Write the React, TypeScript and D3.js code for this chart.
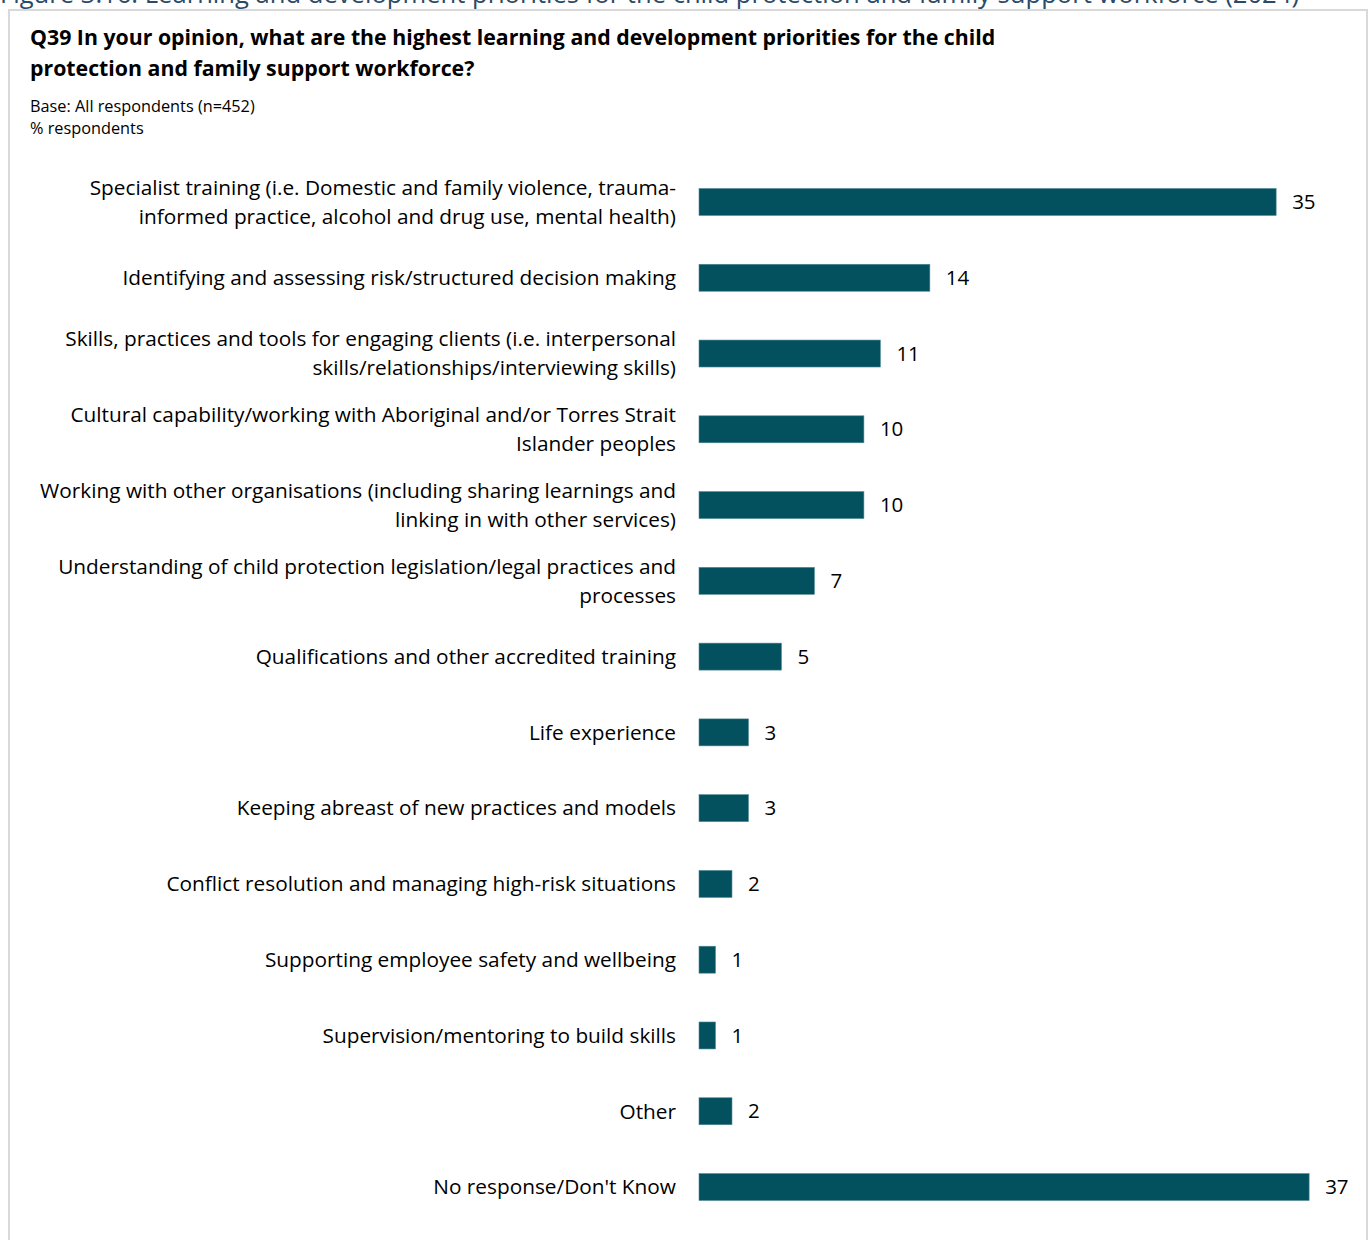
import React from "react";
import * as d3 from "d3";

const categories: string[][] = [
  ["Specialist training (i.e. Domestic and family violence, trauma-", "informed practice, alcohol and drug use, mental health)"],
  ["Identifying and assessing risk/structured decision making"],
  ["Skills, practices and tools for engaging clients (i.e. interpersonal", "skills/relationships/interviewing skills)"],
  ["Cultural capability/working with Aboriginal and/or Torres Strait", "Islander peoples"],
  ["Working with other organisations (including sharing learnings and", "linking in with other services)"],
  ["Understanding of child protection legislation/legal practices and", "processes"],
  ["Qualifications and other accredited training"],
  ["Life experience"],
  ["Keeping abreast of new practices and models"],
  ["Conflict resolution and managing high-risk situations"],
  ["Supporting employee safety and wellbeing"],
  ["Supervision/mentoring to build skills"],
  ["Other"],
  ["No response/Don't Know"],
];
const values: number[] = [35, 14, 11, 10, 10, 7, 5, 3, 3, 2, 1, 1, 2, 37];

const caption = "Figure 3.16: Learning and development priorities for the child protection and family support workforce (2024)";
const titleLines = [
  "Q39 In your opinion, what are the highest learning and development priorities for the child",
  "protection and family support workforce?",
];
const subtitleLines = ["Base: All respondents (n=452)", "% respondents"];

const FONT = "'Open Sans', 'Noto Sans', sans-serif";
const BAR = "#03505f";

export default function App() {
  const W = 1370, H = 1240;
  const ids = categories.map((_, i) => String(i));
  const x = d3.scaleLinear().domain([0, 40]).range([699, 1358.6]);
  const pi = 0.644;
  const y = d3.scaleBand<string>().domain(ids).range([164.1, 1224.9]).paddingInner(pi).paddingOuter(pi / 2);
  const bw = y.bandwidth();
  const lineH = 29;

  return (
    <svg width={W} height={H} style={{ position: "absolute", left: 0, top: 0, background: "#fff" }} fontFamily={FONT}>
      <rect x={0} y={0} width={W} height={H} fill="#fff" />
      <text x={0} y={3} fontSize={25.6} fill="#2a4a68">{caption}</text>
      <rect x={9} y={10} width={1358} height={1240} fill="none" stroke="#d9d9d9" strokeWidth={2} />
      {titleLines.map((t, i) => (
        <text key={i} x={30} y={45 + i * 31} fontSize={21.3} fontWeight={700} fill="#000">{t}</text>
      ))}
      {subtitleLines.map((t, i) => (
        <text key={i} x={30} y={112 + i * 22} fontSize={16.3} fill="#000">{t}</text>
      ))}
      {categories.map((lines, i) => {
        const cy = (y(ids[i]) as number) + bw / 2;
        const n = lines.length;
        return (
          <text key={"l" + i} fontSize={20.8} fill="#000" textAnchor="end">
            {lines.map((l, j) => (
              <tspan key={j} x={676} y={cy + (j - (n - 1) / 2) * lineH} dy="0.35em">{l}</tspan>
            ))}
          </text>
        );
      })}
      {values.map((v, i) => (
        <rect key={"b" + i} x={x(0)} y={y(ids[i])} width={x(v) - x(0)} height={bw} fill={BAR} stroke="#4f8a96" strokeWidth={0.6} />
      ))}
      {values.map((v, i) => (
        <text key={"v" + i} x={x(v) + 16} y={(y(ids[i]) as number) + bw / 2} dy="0.35em" fontSize={20.5} fill="#000">{v}</text>
      ))}
    </svg>
  );
}
